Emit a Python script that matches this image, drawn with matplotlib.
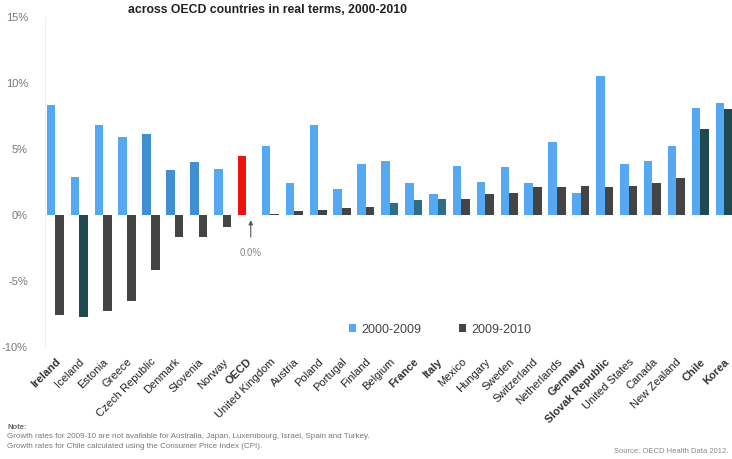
import matplotlib
matplotlib.use("Agg")
import matplotlib.pyplot as plt
import numpy as np

plt.rcParams["font.family"] = ["Liberation Sans", "DejaVu Sans"]

countries = [
    "Ireland", "Iceland", "Estonia", "Greece", "Czech Republic", "Denmark",
    "Slovenia", "Norway", "OECD", "United Kingdom", "Austria", "Poland",
    "Portugal", "Finland", "Belgium", "France", "Italy", "Mexico", "Hungary",
    "Sweden", "Switzerland", "Netherlands", "Germany", "Slovak Republic",
    "United States", "Canada", "New Zealand", "Chile", "Korea",
]
growth_2000_2009 = [
    8.3, 2.9, 6.8, 5.9, 6.1, 3.4, 4.0, 3.5, 4.5, 5.2, 2.4, 6.8, 2.0, 3.9,
    4.1, 2.4, 1.6, 3.7, 2.5, 3.6, 2.4, 5.5, 1.7, 10.5, 3.9, 4.1, 5.2, 8.1, 8.5,
]
growth_2009_2010 = [
    -7.6, -7.7, -7.3, -6.5, -4.2, -1.7, -1.7, -0.9, 0.0, 0.1, 0.3, 0.4, 0.5,
    0.6, 0.9, 1.1, 1.2, 1.2, 1.6, 1.7, 2.1, 2.1, 2.2, 2.1, 2.2, 2.4, 2.8, 6.5, 8.0,
]
bold_labels = {"Ireland", "OECD", "France", "Italy", "Germany",
               "Slovak Republic", "Chile", "Korea"}

light_blue = "#55a8f2"
mid_blue = "#3f8fd2"
dark_grey = "#444444"

colors_a = [light_blue] * len(countries)
for name in ["Czech Republic", "Denmark", "Slovenia"]:
    colors_a[countries.index(name)] = mid_blue
colors_a[countries.index("OECD")] = "#ee1111"

colors_b = [dark_grey] * len(countries)
for name in ["Iceland", "Korea", "Chile"]:
    colors_b[countries.index(name)] = "#1f4a52"
for name in ["Belgium", "France", "Italy"]:
    colors_b[countries.index(name)] = "#2f6c88"

fig = plt.figure(figsize=(7.32, 4.59), dpi=100)
ax = fig.add_axes([0.061, 0.244, 0.939, 0.719])

x = np.arange(len(countries))
w = 0.36
ax.bar(x - 0.18, growth_2000_2009, w, color=colors_a, label="2000-2009", zorder=2)
ax.bar(x + 0.18, growth_2009_2010, w, color=colors_b, label="2009-2010", zorder=2)

ax.set_xlim(-0.45, 28.33)
ax.set_ylim(-10, 15)
ax.set_yticks([15, 10, 5, 0, -5, -10])
ax.set_yticklabels(["15%", "10%", "5%", "0%", "-5%", "-10%"], color="#777777", fontsize=8)
ax.tick_params(axis="y", length=0, pad=12)
ax.tick_params(axis="x", length=0, pad=7)
for side in ["top", "right", "bottom"]:
    ax.spines[side].set_visible(False)
ax.spines["left"].set_color("#eeeeee")

ax.set_xticks(x)
ax.set_xticklabels(countries, rotation=45, ha="right", rotation_mode="anchor", fontsize=8)
for lbl in ax.get_xticklabels():
    if lbl.get_text() in bold_labels:
        lbl.set_fontweight("bold")
        lbl.set_color("#333333")
    else:
        lbl.set_color("#222222")

i_oecd = countries.index("OECD")
ax.annotate("0.0%", xy=(i_oecd + 0.18, -0.4), xytext=(i_oecd + 0.18, -2.9),
            ha="center", va="center", fontsize=7, color="#888888",
            arrowprops=dict(arrowstyle="-|>", color="#555555", lw=0.8,
                            shrinkA=6, shrinkB=0, mutation_scale=6))

ax.legend(loc="lower center", bbox_to_anchor=(0.575, 0.0), ncol=2, frameon=False,
          fontsize=9, handlelength=0.6, handleheight=0.6, columnspacing=3,
          handletextpad=0.4, labelcolor="#444444")

fig.text(0.366, 0.978, "across OECD countries in real terms, 2000-2010",
         ha="center", va="center", fontsize=8.8, fontweight="bold", color="#222222")

fig.text(0.01, 0.066, "Note:", fontsize=5.5, fontweight="bold", color="#666666")
fig.text(0.01, 0.045,
         "Growth rates for 2009-10 are not available for Australia, Japan, Luxembourg, Israel, Spain and Turkey.",
         fontsize=5.8, color="#777777")
fig.text(0.01, 0.024,
         "Growth rates for Chile calculated using the Consumer Price Index (CPI).",
         fontsize=5.8, color="#777777")
fig.text(0.995, 0.012, "Source: OECD Health Data 2012.", ha="right",
         fontsize=5.5, color="#888888")

fig.savefig("out.png", dpi=100)
